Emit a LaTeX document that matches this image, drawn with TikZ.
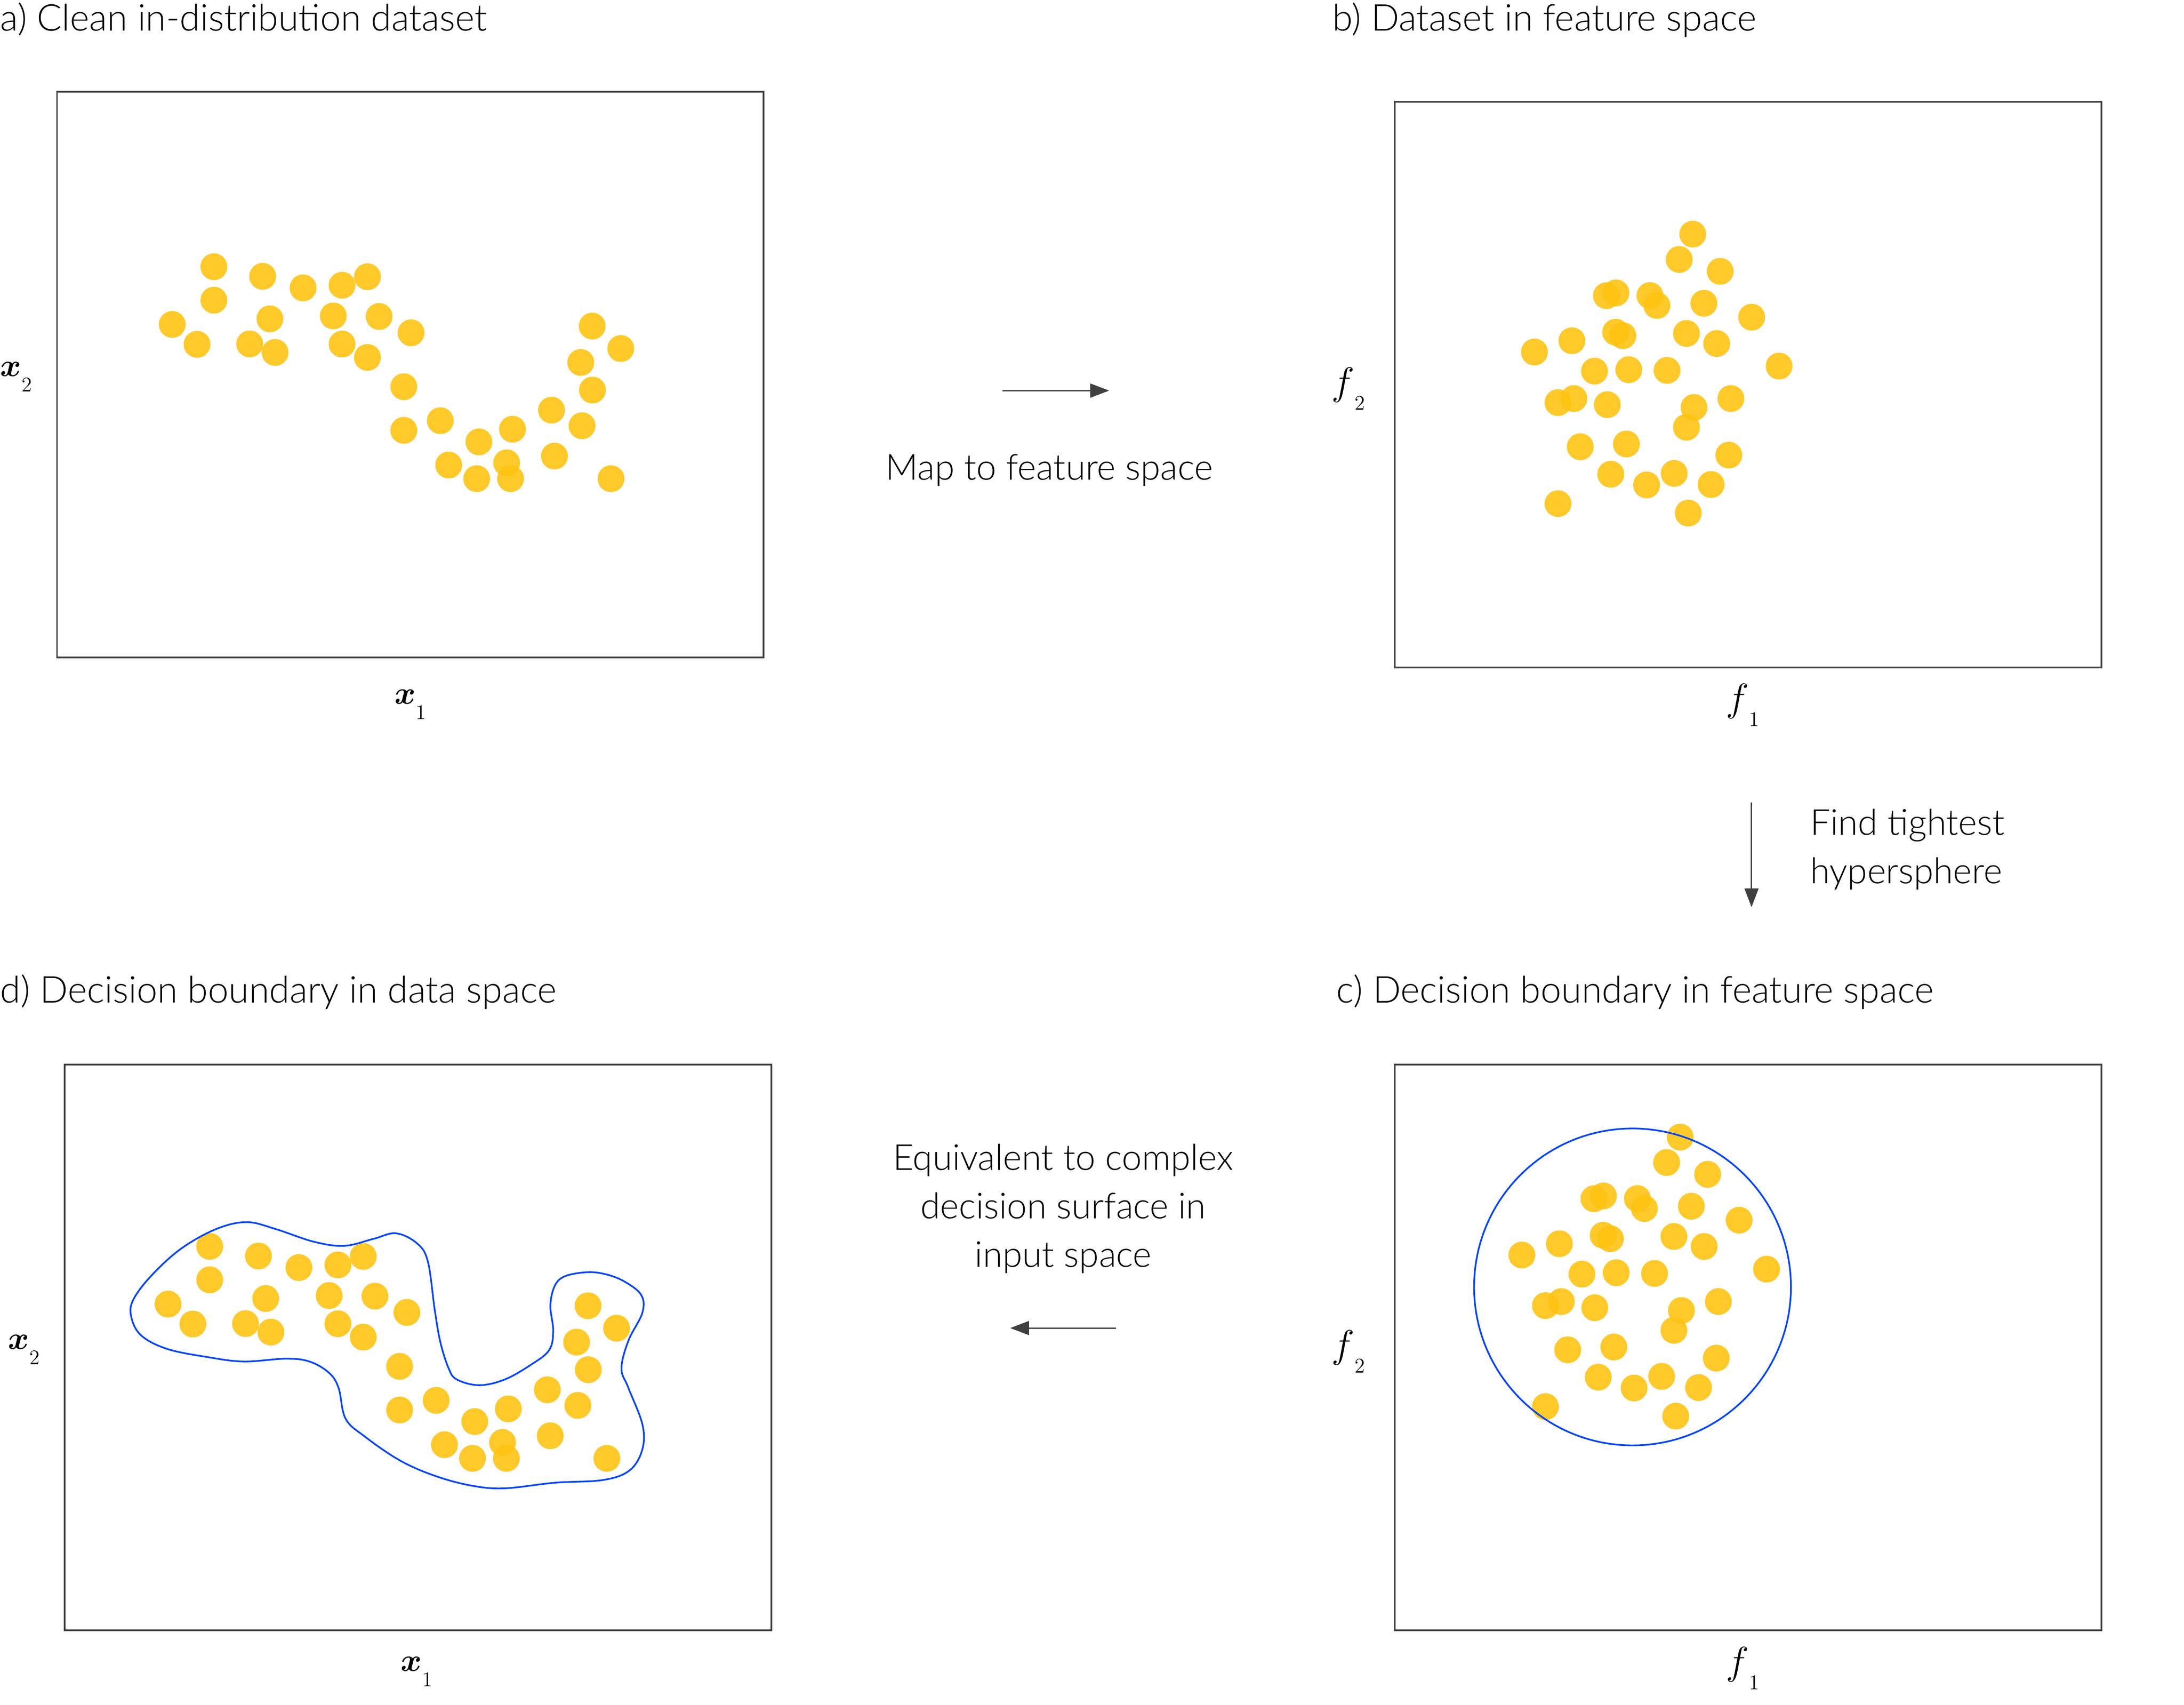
\RequirePackage{fix-cm}
\documentclass[tikz,border=0pt]{standalone}
\usepackage{amsmath}
\usepackage{fontspec}
\IfFontExistsTF{Lato Light}
  {\setmainfont{Lato Light}%
   \newcommand{\labelfont}{\fontsize{25.7}{34.8}\selectfont}%
   \newcommand{\titlefont}{\fontsize{26.5}{34.8}\selectfont}}
  {\setmainfont{Carlito}%
   \newcommand{\labelfont}{\fontsize{27}{34.8}\selectfont}%
   \newcommand{\titlefont}{\fontsize{28}{34.8}\selectfont}}
\usetikzlibrary{arrows.meta}
\definecolor{linegray}{RGB}{64,64,64}
\definecolor{dotyellow}{RGB}{255,195,18}
\definecolor{boundblue}{RGB}{0,68,255}
\tikzset{panel/.style={draw=linegray, line width=1.2pt, minimum width=507pt, minimum height=406pt, inner sep=0pt}}
\tikzset{connect/.style={draw=linegray, line width=1pt, -{Triangle[length=13.5pt,width=10pt]}}}
\tikzset{datadot/.style={fill=dotyellow, fill opacity=0.9}}
\tikzset{boundary/.style={draw=boundblue, line width=1.2pt}}
\tikzset{paneltitle/.style={anchor=base west, inner sep=0pt, font=\titlefont}}
\tikzset{steplabel/.style={inner sep=0pt, font=\labelfont}}
\tikzset{axislabel/.style={inner sep=0pt, font=\fontsize{23}{23}\selectfont}}
\tikzset{featlabel/.style={inner sep=0pt, font=\fontsize{28}{28}\selectfont}}
\newcommand{\axisname}[2]{$#1$\raisebox{-11pt}{\fontsize{15}{15}\selectfont$#2$}}
% the two moons, data space
\def\datadots{153.5/191.4, 188.5/198.3, 217.5/206.6, 245.5/204.7, 263.7/198.6, 153.5/215.4, 123.6/232.8, 141.4/247.1, 193.7/228.8, 179.2/246.8, 197.4/252.9, 239.2/226.7, 272.1/227.1, 245.5/246.9, 263.7/256.5, 295/238.8, 289.8/277.5, 289.8/308.8, 316/301.9, 343.7/317.1, 322/333.7, 342.1/343.5, 367.8/308, 363.6/332.1, 366.4/343.5, 395.8/294.3, 417.7/305.5, 397.9/327.3, 425/234, 445.5/250.1, 416.8/260.1, 425.2/279.9, 438.5/343.5}
% the blob, feature space
\def\featuredots{1205.8/816.0, 1196.1/834.2, 1225.5/842.7, 1143.9/860.2, 1150.7/858.2, 1175.1/860.1, 1180.1/867.2, 1213.8/865.6, 1248.1/875.6, 1092.2/900.6, 1119.1/892.5, 1150.5/886.4, 1155.7/888.9, 1201.3/887.3, 1223.0/894.5, 1267.8/910.7, 1135.3/914.3, 1159.9/913.3, 1187.4/913.8, 1109.1/936.9, 1120.5/934.0, 1144.5/938.4, 1206.7/940.4, 1233.2/934.0, 1201.3/954.6, 1125.1/968.6, 1158.2/966.6, 1231.7/974.6, 1147.0/988.3, 1172.7/996.0, 1192.5/987.7, 1219.0/995.7, 1109.1/1009.4, 1202.6/1016.2}

\begin{document}
\begin{tikzpicture}[x=1pt,y=-1pt]
\useasboundingbox (0,0) rectangle (1567.4,1223.3);
% panels
\node[panel] (panela) at (294.4,268.9) {};
\node[panel] (panelb) at (1254.5,276) {};
\node[panel] (panelc) at (1254.5,967) {};
\node[panel] (paneld) at (300,967) {};
\node[paneltitle] (titlea) at (0,22) {a) Clean in-distribution dataset};
\node[paneltitle] (titleb) at (956,22) {b) Dataset in feature space};
\node[paneltitle] (titlec) at (959,719.5) {c) Decision boundary in feature space};
\node[paneltitle] (titled) at (0,719.5) {d) Decision boundary in data space};
% axes
\node[axislabel,anchor=base] (xonea) at ([yshift=-32.6pt]panela.south) {\axisname{\boldsymbol{x}}{1}};
\node[axislabel,anchor=base west] (xtwoa) at ([xshift=-40.2pt,yshift=-1.1pt]panela.west) {\axisname{\boldsymbol{x}}{2}};
\node[featlabel,anchor=base] (foneb) at ([xshift=-4pt,yshift=-30.7pt]panelb.south) {\axisname{f}{1}};
\node[featlabel,anchor=base west] (ftwob) at ([xshift=-45pt,yshift=-7.2pt]panelb.west) {\axisname{f}{2}};
\node[featlabel,anchor=base] (fonec) at ([xshift=-4pt,yshift=-30.7pt]panelc.south) {\axisname{f}{1}};
\node[featlabel,anchor=base west] (ftwoc) at ([xshift=-45pt,yshift=-7.2pt]panelc.west) {\axisname{f}{2}};
\node[axislabel,anchor=base] (xoned) at ([xshift=-1pt,yshift=-28.6pt]paneld.south) {\axisname{\boldsymbol{x}}{1}};
\node[axislabel,anchor=base west] (xtwod) at ([xshift=-40.2pt,yshift=-1.1pt]paneld.west) {\axisname{\boldsymbol{x}}{2}};
% dots
\foreach \px/\py in \datadots {\fill[datadot] (\px,\py) circle (9.6);}
\begin{scope}[shift={(-3,703)}]
\foreach \px/\py in \datadots {\fill[datadot] (\px,\py) circle (9.6);}
\end{scope}
\foreach \px/\py in \featuredots {\fill[datadot] (\px,\py) circle (9.6);}
\begin{scope}[shift={(9,-648)}]
\foreach \px/\py in \featuredots {\fill[datadot] (\px,\py) circle (9.6);}
\end{scope}
% boundaries
\draw[boundary] (1171.6,923.5) circle (113.7);
\draw[boundary] plot[smooth cycle, tension=0.6] coordinates {(94,944) (101,958) (120,968) (150,974) (175,977) (205,975) (222,977) (236,985) (243,996) (248,1018) (262,1031) (287,1048) (312,1059) (338,1066) (362,1068) (398,1064) (433,1062) (452,1055) (461,1040) (461,1022) (451,996) (446,982) (451,962) (461,942) (460,929) (447,919) (433,914) (420,913) (405,916) (398,923) (395,937) (397,955) (394,969) (380,980) (362,990) (344,994) (328,990) (322,982) (316,963) (312,940) (307,905) (299,892) (284,885) (268,889) (247,894) (225,891) (198,882) (177,877) (155,882) (130,896) (109,915) (96,932)};
% steps between panels
\coordinate (mapstart) at (719.5,280.3);
\coordinate (mapend) at (796,280.3);
\path[connect] (mapstart) -- (mapend);
\node[steplabel,anchor=base] (maplabel) at (753,344.5) {Map to feature space};
\coordinate (findstart) at (1257,576);
\coordinate (findend) at (1257,651);
\path[connect] (findstart) -- (findend);
\node[steplabel,anchor=west,align=left] (findlabel) at (1299,609.6) {Find tightest\\hypersphere};
\coordinate (equivstart) at (801,953);
\coordinate (equivend) at (725,953);
\path[connect] (equivstart) -- (equivend);
\node[steplabel,align=center] (equivlabel) at (763,867.3) {Equivalent to complex\\decision surface in\\input space};
\end{tikzpicture}
\end{document}
